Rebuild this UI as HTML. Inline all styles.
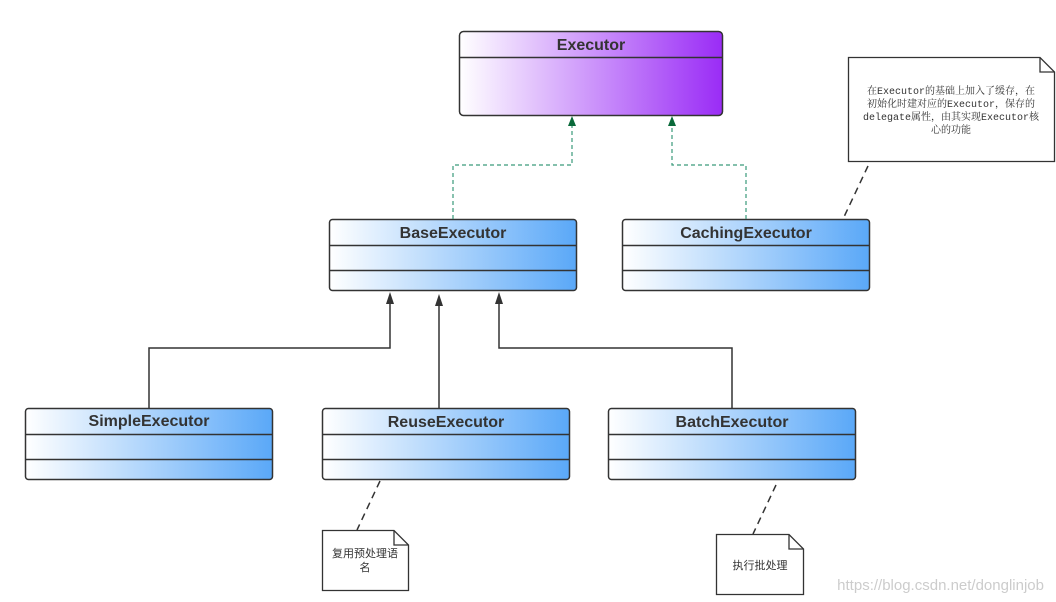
<!DOCTYPE html>
<html><head><meta charset="utf-8"><style>
html,body{margin:0;padding:0;background:#fff;}
svg{display:block;}
.t{font-family:"Liberation Sans",sans-serif;font-weight:bold;font-size:16px;fill:#333;}
.n{font-family:"Liberation Mono","Noto Serif CJK SC",monospace;font-size:10px;fill:#333;}
.s{font-family:"Liberation Sans","Noto Sans CJK SC",sans-serif;font-size:11px;fill:#333;}
</style></head><body>
<svg width="1056" height="602" viewBox="0 0 1056 602" xmlns="http://www.w3.org/2000/svg">
<defs>
<linearGradient id="p" x1="0" x2="1" y1="0" y2="0"><stop offset="0" stop-color="#fff"/><stop offset="1" stop-color="#9a2cf6"/></linearGradient>
<linearGradient id="b" x1="0" x2="1" y1="0" y2="0"><stop offset="0" stop-color="#fff"/><stop offset="1" stop-color="#5aa8f8"/></linearGradient>
</defs>
<!-- Executor -->
<rect x="459.5" y="31.5" width="263" height="84" rx="4" fill="url(#p)" stroke="#333" stroke-width="1.5"/>
<line x1="459.5" y1="57.5" x2="722.5" y2="57.5" stroke="#333" stroke-width="1.5"/>
<text class="t" x="591" y="50" text-anchor="middle">Executor</text>
<!-- classes -->
<g stroke="#333" stroke-width="1.5">
<rect x="329.5" y="219.5" width="247" height="71" rx="3" fill="url(#b)"/>
<line x1="329.5" y1="245.5" x2="576.5" y2="245.5"/><line x1="329.5" y1="270.5" x2="576.5" y2="270.5"/>
<rect x="622.5" y="219.5" width="247" height="71" rx="3" fill="url(#b)"/>
<line x1="622.5" y1="245.5" x2="869.5" y2="245.5"/><line x1="622.5" y1="270.5" x2="869.5" y2="270.5"/>
<rect x="25.5" y="408.5" width="247" height="71" rx="3" fill="url(#b)"/>
<line x1="25.5" y1="434.5" x2="272.5" y2="434.5"/><line x1="25.5" y1="459.5" x2="272.5" y2="459.5"/>
<rect x="322.5" y="408.5" width="247" height="71" rx="3" fill="url(#b)"/>
<line x1="322.5" y1="434.5" x2="569.5" y2="434.5"/><line x1="322.5" y1="459.5" x2="569.5" y2="459.5"/>
<rect x="608.5" y="408.5" width="247" height="71" rx="3" fill="url(#b)"/>
<line x1="608.5" y1="434.5" x2="855.5" y2="434.5"/><line x1="608.5" y1="459.5" x2="855.5" y2="459.5"/>
</g>
<text class="t" x="453" y="238" text-anchor="middle">BaseExecutor</text>
<text class="t" x="746" y="238" text-anchor="middle">CachingExecutor</text>
<text class="t" x="149" y="426" text-anchor="middle">SimpleExecutor</text>
<text class="t" x="446" y="427" text-anchor="middle">ReuseExecutor</text>
<text class="t" x="732" y="427" text-anchor="middle">BatchExecutor</text>
<!-- green dashed -->
<g stroke="#3a9a7a" stroke-width="1.2" stroke-dasharray="4,3" fill="none">
<polyline points="453,219 453,165 572,165 572,124"/>
<polyline points="746,219 746,165 672,165 672,124"/>
</g>
<polygon points="572,116 568,126 576,126" fill="#0a6a3a"/>
<polygon points="672,116 668,126 676,126" fill="#0a6a3a"/>
<!-- solid -->
<g stroke="#333" stroke-width="1.5" fill="none">
<polyline points="149,408 149,348 390,348 390,302"/>
<polyline points="439,408 439,304"/>
<polyline points="732,408 732,348 499,348 499,302"/>
</g>
<g fill="#333">
<polygon points="390,292 386,304 394,304"/>
<polygon points="439,294 435,306 443,306"/>
<polygon points="499,292 495,304 503,304"/>
</g>
<!-- notes dashed -->
<g stroke="#333" stroke-width="1.5" stroke-dasharray="7,5">
<line x1="868" y1="166" x2="843" y2="219"/>
<line x1="380" y1="481" x2="357" y2="530"/>
<line x1="776" y1="485" x2="753" y2="534"/>
</g>
<g fill="#fff" stroke="#333" stroke-width="1.3">
<polygon points="848.5,57.5 1040,57.5 1054.5,72 1054.5,161.5 848.5,161.5"/>
<polyline points="1040,57.5 1040,72 1054.5,72" fill="none"/>
<polygon points="322.5,530.5 394,530.5 408.5,545 408.5,590.5 322.5,590.5"/>
<polyline points="394,530.5 394,545 408.5,545" fill="none"/>
<polygon points="716.5,534.5 789,534.5 803.5,549 803.5,594.5 716.5,594.5"/>
<polyline points="789,534.5 789,549 803.5,549" fill="none"/>
</g>
<text class="n" x="951" y="94" text-anchor="middle">在Executor的基础上加入了缓存，在</text>
<text class="n" x="951" y="107" text-anchor="middle">初始化时建对应的Executor，保存的</text>
<text class="n" x="951" y="120" text-anchor="middle">delegate属性，由其实现Executor核</text>
<text class="n" x="951" y="133" text-anchor="middle">心的功能</text>
<text class="s" x="365" y="557" text-anchor="middle">复用预处理语</text>
<text class="s" x="365" y="571" text-anchor="middle">名</text>
<text class="s" x="760" y="569" text-anchor="middle">执行批处理</text>
<text x="1044" y="590" text-anchor="end" font-family="Liberation Sans,sans-serif" font-size="15" fill="#ccc">https://blog.csdn.net/donglinjob</text>
</svg>
</body></html>
